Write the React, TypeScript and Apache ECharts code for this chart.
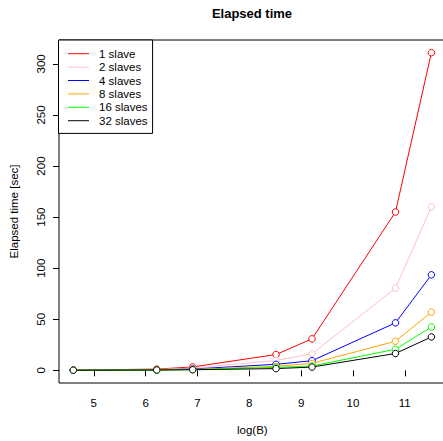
import React, { useEffect, useRef } from "react";
import * as echarts from "echarts";

const logB = [4.605, 6.215, 6.908, 8.517, 9.21, 10.82, 11.513];
const seriesNames = ["1 slave", "2 slaves", "4 slaves", "8 slaves", "16 slaves", "32 slaves"];
const slave1 = [0.2, 1.2, 3.3, 15.5, 30.8, 155, 311];
const slave2 = [0.15, 0.8, 2.2, 9.6, 16.2, 80.5, 160];
const slave4 = [0.1, 0.5, 1.3, 5.9, 9.4, 46.5, 93.5];
const slave8 = [0.1, 0.4, 0.9, 3.9, 6.8, 28.5, 57];
const slave16 = [0.1, 0.3, 0.7, 2.9, 4.2, 20.6, 42.4];
const slave32 = [0.1, 0.3, 0.6, 1.7, 3.2, 16.5, 32.7];
const seriesValues = [slave1, slave2, slave4, slave8, slave16, slave32];
const colors = ["#FF0000", "#FFC0CB", "#0000FF", "#FFA500", "#00FF00", "#000000"];
const xTicks = [5, 6, 7, 8, 9, 10, 11];
const yTicks = [0, 50, 100, 150, 200, 250, 300];

const FONT = "'Liberation Sans', Arial, Helvetica, sans-serif";
const FS = 11.5;

export default function App() {
  const ref = useRef<HTMLDivElement>(null);
  useEffect(() => {
    if (!ref.current) return;
    const chart = echarts.init(ref.current, null, { renderer: "svg" });
    chart.setOption({
      animation: false,
      backgroundColor: "#fff",
      textStyle: { fontFamily: FONT },
      graphic: [
        {
          type: "text",
          x: 252,
          y: 13.5,
          style: {
            text: "Elapsed time",
            fontFamily: FONT,
            fontSize: 13,
            fontWeight: "bold",
            fill: "#000",
            align: "center",
            verticalAlign: "middle",
          },
        },
      ],
      grid: {
        left: 58.5,
        top: 40,
        right: 0.3,
        bottom: 54.3,
        show: true,
        borderColor: "#000",
        borderWidth: 1,
        backgroundColor: "transparent",
      },
      legend: {
        orient: "vertical",
        left: 58.5,
        top: 40,
        padding: [7, 5, 6, 9.5],
        itemGap: 0,
        itemWidth: 21,
        itemHeight: 1,
        icon: "rect",
        borderColor: "#000",
        borderWidth: 1,
        borderRadius: 0,
        backgroundColor: "#fff",
        textStyle: {
          fontFamily: FONT,
          fontSize: FS,
          color: "#000",
          lineHeight: 13.4,
          padding: [0, 0, 0, 5],
        },
        data: seriesNames.map((name, i) => ({
          name,
          itemStyle: { color: colors[i], borderWidth: 0 },
        })),
      },
      xAxis: {
        type: "value",
        min: 4.329,
        max: 11.789,
        name: "log(B)",
        nameLocation: "middle",
        nameGap: 41,
        nameTextStyle: { fontFamily: FONT, fontSize: FS, color: "#000" },
        axisLine: { show: false },
        splitLine: { show: false },
        axisTick: { show: true, length: 6, customValues: xTicks, lineStyle: { color: "#000" } },
        axisLabel: {
          customValues: xTicks,
          margin: 14,
          fontFamily: FONT,
          fontSize: FS,
          color: "#000",
        },
      },
      yAxis: {
        type: "value",
        min: -12.4,
        max: 323.4,
        name: "Elapsed time [sec]",
        nameLocation: "middle",
        nameGap: 39,
        nameTextStyle: { fontFamily: FONT, fontSize: FS, color: "#000" },
        axisLine: { show: false },
        splitLine: { show: false },
        axisTick: { show: true, length: 6, customValues: yTicks, lineStyle: { color: "#000" } },
        axisLabel: {
          customValues: yTicks,
          rotate: 90,
          margin: 12,
          fontFamily: FONT,
          fontSize: FS,
          color: "#000",
        },
      },
      series: seriesNames.map((name, i) => ({
        name,
        type: "line",
        data: logB.map((x, j) => [x, seriesValues[i][j]]),
        symbol: "circle",
        symbolSize: 6.5,
        showAllSymbol: true,
        color: colors[i],
        lineStyle: { width: 1, color: colors[i] },
        itemStyle: { color: "#ffffff", borderColor: colors[i], borderWidth: 1 },
        emphasis: { disabled: true },
      })),
    });
    return () => chart.dispose();
  }, []);
  return (
    <div
      style={{
        position: "fixed",
        left: 0,
        top: 0,
        width: 443,
        height: 441,
        overflow: "hidden",
        background: "#fff",
      }}
    >
      <div ref={ref} style={{ width: 446, height: 441 }} />
    </div>
  );
}
